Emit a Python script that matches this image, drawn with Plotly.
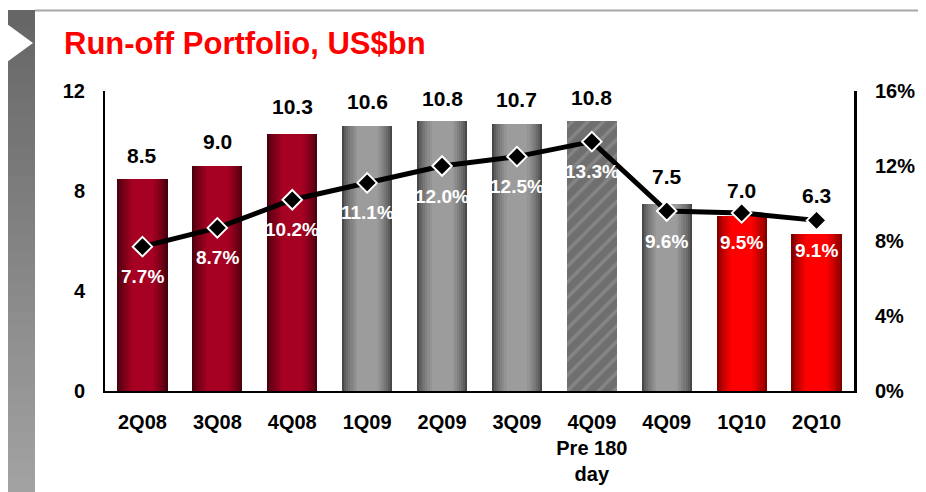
import plotly.graph_objects as go

categories = ["2Q08", "3Q08", "4Q08", "1Q09", "2Q09", "3Q09", "4Q09<br>Pre 180<br>day", "4Q09", "1Q10", "2Q10"]
portfolio_bn = [8.5, 9.0, 10.3, 10.6, 10.8, 10.7, 10.8, 7.5, 7.0, 6.3]
ratio_pct = [7.7, 8.7, 10.2, 11.1, 12.0, 12.5, 13.3, 9.6, 9.5, 9.1]
bar_group = ["dark", "dark", "dark", "gray", "gray", "gray", "hatch", "gray", "red", "red"]
left_ticks = [0, 4, 8, 12]
right_ticks = [0, 4, 8, 12, 16]

# label nudges (pixels above the bar top), style only
value_label_shift = [23, 25, 27, 25, 23, 24, 24, 27, 26, 38]

PALETTE = {
    "dark": ((0x4a, 0x00, 0x0e), (0xa6, 0x00, 0x22)),
    "gray": ((0x48, 0x48, 0x48), (0x9c, 0x9c, 0x9c)),
    "red": ((0x80, 0x00, 0x00), (0xff, 0x00, 0x00)),
}

# page body has an 8px margin; layout is expressed in screen pixels
OFF = 8
SW, SH = 926, 492
W, H = SW - OFF, SH - OFF
SL, SR, ST, SB = 105, 854, 91, 391  # plot area in screen pixels
L, R, T, B = SL - OFF, SR - OFF, ST - OFF, SB - OFF


def px(x):
    return (x - SL) / (SR - SL)


def py(y):
    return (SB - y) / (SB - ST)


def mix(c0, c1, f):
    return "rgb(%d,%d,%d)" % tuple(round(a + (b - a) * f) for a, b in zip(c0, c1))


fig = go.Figure()

BAR_W = 0.67
N = 12
for i in range(N):
    t = i / (N - 1)
    f = min(1.0, t * 1.6) ** 0.7
    w = BAR_W * (1 - i / N)
    ys = [v if g != "hatch" else None for v, g in zip(portfolio_bn, bar_group)]
    cols = [mix(*PALETTE[g], f) if g != "hatch" else "rgba(0,0,0,0)" for g in bar_group]
    fig.add_trace(go.Bar(x=categories, y=ys, width=w, marker=dict(color=cols, line=dict(width=0)),
                         showlegend=False, hoverinfo="skip"))

hy = [v if g == "hatch" else None for v, g in zip(portfolio_bn, bar_group)]
fig.add_trace(go.Bar(x=categories, y=hy, width=BAR_W,
                     marker=dict(color="#6f6f6f", line=dict(width=0),
                                 pattern=dict(shape="/", fgcolor="#9c9c9c", bgcolor="#6f6f6f",
                                              size=11, solidity=0.3)),
                     showlegend=False, hoverinfo="skip"))

fig.add_trace(go.Scatter(x=categories, y=ratio_pct, yaxis="y2", mode="lines+markers",
                         line=dict(color="black", width=5),
                         marker=dict(symbol="diamond", size=15, color="black",
                                     line=dict(color="white", width=2)),
                         showlegend=False, hoverinfo="skip"))

FONT = "Arial, Liberation Sans"
annotations = []
for c, v, s in zip(categories, portfolio_bn, value_label_shift):
    annotations.append(dict(x=c, y=v, xref="x", yref="y", text="%.1f" % v, showarrow=False,
                            yanchor="middle", yshift=s,
                            font=dict(family=FONT, size=21, color="black", weight="bold")))
for c, v in zip(categories, ratio_pct):
    annotations.append(dict(x=c, y=v, xref="x", yref="y2", text="%.1f%%" % v, showarrow=False,
                            yanchor="middle", yshift=-30,
                            font=dict(family=FONT, size=19, color="white", weight="bold")))

annotations.append(dict(x=px(62), y=py(44), xref="paper", yref="paper", xanchor="left", yanchor="middle",
                        text="Run-off Portfolio, US$bn", showarrow=False,
                        font=dict(family=FONT, size=31, color="#ff0000", weight="bold")))

shapes = []
NS = 32
for k in range(NS):
    y0 = 10 + (492 - 10) * k / NS
    y1 = 10 + (492 - 10) * (k + 1) / NS
    g = round(0x66 + (0xa2 - 0x66) * k / (NS - 1))
    shapes.append(dict(type="rect", xref="paper", yref="paper", x0=px(OFF), x1=px(35),
                       y0=py(y0), y1=py(min(y1 + 2, 492)),
                       fillcolor="rgb(%d,%d,%d)" % (g, g, g), line=dict(width=0), layer="below"))
shapes += [
    dict(type="path", xref="paper", yref="paper",
         path="M %f %f L %f %f L %f %f Z" % (px(OFF - 1), py(24), px(33), py(43), px(OFF - 1), py(62)),
         fillcolor="white", line=dict(width=0), layer="below"),
    dict(type="line", xref="paper", yref="paper", x0=px(35), x1=px(SW), y0=py(10.5), y1=py(10.5),
         line=dict(color="#a8a8a8", width=2)),
]

tickfont = dict(family=FONT, size=20, color="black", weight="bold")

fig.update_layout(
    width=W, height=H,
    margin=dict(l=L, r=W - R, t=T, b=H - B, pad=0, autoexpand=False),
    paper_bgcolor="white", plot_bgcolor="white",
    barmode="overlay", bargap=0,
    annotations=annotations, shapes=shapes,
    xaxis=dict(range=[-0.5, len(categories) - 0.5], showgrid=False, showline=True, linecolor="black",
               linewidth=2, ticks="",
               tickfont=dict(family=FONT, size=20, color="black", weight="bold"),
               ticklabelstandoff=12, fixedrange=True, automargin=False),
    yaxis=dict(range=[0, 12], tickvals=left_ticks, showgrid=False, showline=True, linecolor="black",
               linewidth=2, ticks="", tickfont=tickfont, ticklabelstandoff=14, zeroline=False,
               automargin=False),
    yaxis2=dict(range=[0, 16], tickvals=right_ticks, ticktext=["%d%%" % v for v in right_ticks],
                overlaying="y", side="right", showgrid=False, showline=True, linecolor="black",
                linewidth=3, ticks="", tickfont=tickfont, ticklabelstandoff=14, zeroline=False,
                automargin=False),
)

fig.write_html("out.html")
